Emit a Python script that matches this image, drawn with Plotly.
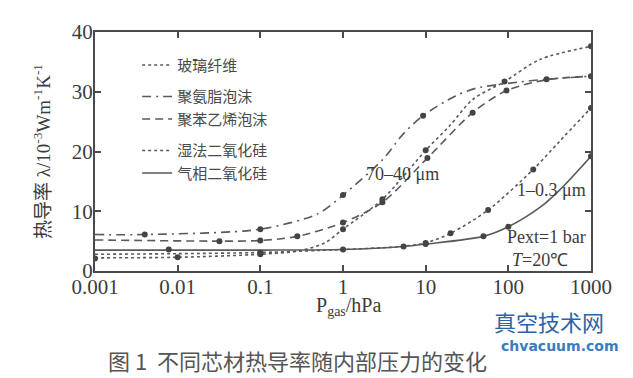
import plotly.graph_objects as go

# ---- data ----
glass_p = [0.001, 0.01, 0.1, 0.3, 0.6, 1, 3, 10, 19.5, 37, 90, 240, 1000]
glass_l = [2.2, 2.3, 2.8, 3.4, 4.7, 7.0, 12.0, 20.2, 24.3, 28.7, 31.7, 35.4, 37.6]
glass_mp = [0.01, 0.1, 1, 3, 10, 90, 1000]
glass_ml = [2.3, 2.8, 7.0, 12.0, 20.2, 31.7, 37.6]

pu_p = [0.001, 0.004, 0.1, 0.5, 1, 3, 5.4, 9.3, 23, 41, 130, 290, 1000]
pu_l = [6.1, 6.1, 7.0, 9.6, 12.7, 18.6, 23.0, 26.0, 29.3, 30.6, 31.6, 32.1, 32.6]
pu_mp = [0.004, 0.1, 1, 9.3, 290]
pu_ml = [6.1, 7.0, 12.7, 26.0, 32.1]

ps_p = [0.001, 0.032, 0.1, 0.28, 1, 3, 10.5, 37, 95, 290, 1000]
ps_l = [5.2, 5.0, 5.1, 5.8, 8.1, 11.5, 18.9, 26.5, 30.2, 32.0, 32.6]
ps_mp = [0.032, 0.1, 0.28, 1, 3, 10.5, 37, 95, 1000]
ps_ml = [5.0, 5.1, 5.8, 8.1, 11.5, 18.9, 26.5, 30.2, 32.6]

wet_p = [0.001, 0.01, 0.1, 1, 5, 10, 20, 57, 200, 410, 1000]
wet_l = [2.8, 2.9, 3.1, 3.6, 4.1, 4.7, 6.3, 10.2, 17.0, 21.6, 27.3]
wet_mp = [0.001, 0.1, 10, 20, 57, 200, 1000]
wet_ml = [2.1, 3.1, 4.7, 6.3, 10.2, 17.0, 27.3]

fumed_p = [0.001, 0.01, 0.1, 1, 5.4, 10, 50, 100, 250, 450, 1000]
fumed_l = [3.5, 3.5, 3.5, 3.6, 4.1, 4.5, 5.8, 7.4, 10.8, 14.0, 19.2]
fumed_mp = [0.0078, 1, 5.4, 10, 50, 100, 1000]
fumed_ml = [3.6, 3.6, 4.1, 4.5, 5.8, 7.4, 19.2]

names = ["玻璃纤维", "聚氨脂泡沫", "聚苯乙烯泡沫", "湿法二氧化硅", "气相二氧化硅"]
groups = ["g1", "g2", "g2", "g3", "g3"]
dashes = ["dot", "9px,5px,2px,5px", "8px,5px", "dot", "solid"]

x_ticks = [0.001, 0.01, 0.1, 1, 10, 100, 1000]
x_tick_text = ["0.001", "0.01", "0.1", "1", "10", "100", "1000"]
y_ticks = [0, 10, 20, 30, 40]

series = [
    (glass_p, glass_l, glass_mp, glass_ml),
    (pu_p, pu_l, pu_mp, pu_ml),
    (ps_p, ps_l, ps_mp, ps_ml),
    (wet_p, wet_l, wet_mp, wet_ml),
    (fumed_p, fumed_l, fumed_mp, fumed_ml),
]

LINE = "#5a5a5a"
TXT = "#3c3c3c"
SERIF = "Liberation Serif, Noto Sans CJK SC"

fig = go.Figure()
for (px, pl, mpx, mpl), name, grp, dash in zip(series, names, groups, dashes):
    fig.add_trace(go.Scatter(
        x=px, y=pl, mode="lines", name=name, legendgroup=grp,
        line=dict(color=LINE, width=1.6, dash=dash, shape="spline", smoothing=0.8),
    ))
for (px, pl, mpx, mpl), name, grp in zip(series, names, groups):
    fig.add_trace(go.Scatter(
        x=mpx, y=mpl, mode="markers", showlegend=False, legendgroup=grp,
        marker=dict(color="#444444", size=6, symbol="circle"),
        hoverinfo="skip",
    ))

axis_common = dict(
    showline=True, linecolor="#4a4a4a", linewidth=2, mirror="ticks",
    ticks="inside", ticklen=6, tickcolor="#4a4a4a", tickwidth=1.5,
    showgrid=False, zeroline=False, ticklabelstandoff=-4,
    tickfont=dict(family="Liberation Serif", size=21, color=TXT),
)

fig.update_layout(
    width=633, height=378,
    margin=dict(l=87, r=50, t=17, b=115),
    paper_bgcolor="white", plot_bgcolor="white",
    xaxis=dict(type="log", range=[-3, 3], tickvals=x_ticks, ticktext=x_tick_text, **axis_common),
    yaxis=dict(range=[0, 40], tickvals=y_ticks, **axis_common),
    showlegend=True,
    legend=dict(
        x=0.085, y=0.93, xanchor="left", yanchor="top",
        traceorder="grouped", tracegroupgap=9,
        font=dict(family="Noto Sans CJK SC", size=15, color="#4a4a4a"),
        bgcolor="rgba(0,0,0,0)", itemwidth=30,
    ),
)

ann = [
    dict(text="热导率 λ/10<sup>-3</sup>Wm<sup>-1</sup>K<sup>-1</sup>", xref="paper", yref="paper",
         x=-0.108, y=0.5, xanchor="center", yanchor="middle", textangle=-90,
         showarrow=False, font=dict(family=SERIF, size=19, color=TXT)),
    dict(text="P<sub>gas</sub>/hPa", xref="paper", yref="paper",
         x=0.512, y=-0.15, xanchor="center", yanchor="middle",
         showarrow=False, font=dict(family="Liberation Serif", size=20, color=TXT)),
    dict(text="70–40 μm", xref="paper", yref="paper",
         x=(394 - 87) / 496, y=(263 - 163) / 246, xanchor="center", yanchor="middle",
         showarrow=False, font=dict(family="Liberation Serif", size=18, color=TXT)),
    dict(text="1–0.3 μm", xref="paper", yref="paper",
         x=(543 - 87) / 496, y=(263 - 180) / 246, xanchor="center", yanchor="middle",
         showarrow=False, font=dict(family="Liberation Serif", size=18, color=TXT)),
    dict(text="Pext=1 bar", xref="paper", yref="paper",
         x=(538 - 87) / 496, y=(263 - 228) / 246, xanchor="center", yanchor="middle",
         showarrow=False, font=dict(family="Liberation Serif", size=18, color=TXT)),
    dict(text="<i>T</i>=20℃", xref="paper", yref="paper",
         x=(532 - 87) / 496, y=(263 - 252) / 246, xanchor="center", yanchor="middle",
         showarrow=False, font=dict(family="Liberation Serif", size=18, color=TXT)),
    dict(text="图 1  不同芯材热导率随内部压力的变化", xref="paper", yref="paper",
         x=(289 - 87) / 496, y=(263 - 355) / 246, xanchor="center", yanchor="middle",
         showarrow=False, font=dict(family="Noto Sans CJK SC", size=22, color="#555555")),
    dict(text="真空技术网", xref="paper", yref="paper",
         x=(541 - 87) / 496, y=(263 - 314) / 246, xanchor="center", yanchor="middle",
         showarrow=False, font=dict(family="Noto Sans CJK SC", size=22, color="#2a64a8")),
    dict(text="<b>chvacuum.com</b>", xref="paper", yref="paper",
         x=(551 - 87) / 496, y=(263 - 340) / 246, xanchor="center", yanchor="middle",
         showarrow=False, font=dict(family="DejaVu Sans", size=14, color="#3a7cc0")),
]
fig.update_layout(annotations=ann)

fig.write_html("out.html")
